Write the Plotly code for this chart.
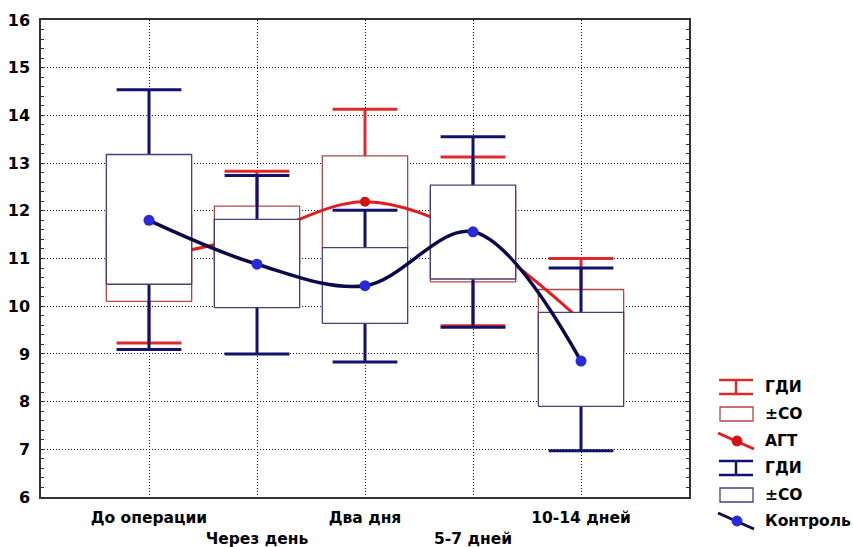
import plotly.graph_objects as go

# ---------------- data ----------------
categories = ["До операции", "Через день", "Два дня", "5-7 дней", "10-14 дней"]
tick_labels = ["До операции", "<br>Через день", "Два дня", "<br>5-7 дней", "10-14 дней"]
y_ticks = [6, 7, 8, 9, 10, 11, 12, 13, 14, 15, 16]

# АГТ group
agt_mean = [11.0, 11.5, 12.19, 11.45, 9.7]
agt_sd_low = [10.10, 10.9, 11.23, 10.51, 9.05]
agt_sd_high = [11.9, 12.10, 13.15, 12.40, 10.35]
agt_ci_low = [9.23, 10.2, 10.25, 9.59, 8.4]
agt_ci_high = [12.75, 12.83, 14.13, 13.13, 11.0]

# Контроль group
ctrl_mean = [11.80, 10.88, 10.43, 11.56, 8.85]
ctrl_sd_low = [10.46, 9.97, 9.64, 10.57, 7.90]
ctrl_sd_high = [13.18, 11.82, 11.23, 12.54, 9.87]
ctrl_ci_low = [9.09, 9.0, 8.83, 9.56, 6.97]
ctrl_ci_high = [14.54, 12.74, 12.01, 13.55, 10.8]

legend_labels = ["ГДИ", "±СО", "АГТ", "ГДИ", "±СО", "Контроль"]

# ---------------- styles ----------------
FONT = "DejaVu Sans"
RED_W, RED_BOX, RED_LINE, RED_MK = "#e02a2a", "#b04848", "#e01e1e", "#d41414"
NAV_W, NAV_BOX, NAV_LINE, NAV_MK = "#12126c", "#4c3c7c", "#0a0a48", "#2a2ad8"
BOX_HALF = 0.395
CAP_HALF = 0.30

L, R, T, B = 41, 164, 20, 50
W, H = 853, 547
PW, PH = W - L - R, H - T - B

fig = go.Figure()
xs = list(range(len(categories)))


def add_group(mean, sd_lo, sd_hi, ci_lo, ci_hi, wcol, bcol, lcol, mcol, lw, mk):
    # whiskers
    wx, wy = [], []
    for i in xs:
        wx += [i, i, None, i - CAP_HALF, i + CAP_HALF, None, i - CAP_HALF, i + CAP_HALF, None]
        wy += [ci_lo[i], ci_hi[i], None, ci_lo[i], ci_lo[i], None, ci_hi[i], ci_hi[i], None]
    fig.add_trace(go.Scatter(x=wx, y=wy, mode="lines", line=dict(color=wcol, width=3),
                             hoverinfo="skip", showlegend=False))
    # boxes
    for i in xs:
        fig.add_trace(go.Scatter(
            x=[i - BOX_HALF, i + BOX_HALF, i + BOX_HALF, i - BOX_HALF, i - BOX_HALF],
            y=[sd_lo[i], sd_lo[i], sd_hi[i], sd_hi[i], sd_lo[i]],
            mode="lines", fill="toself", fillcolor="white",
            line=dict(color=bcol, width=1.3), hoverinfo="skip", showlegend=False))
    # mean line
    fig.add_trace(go.Scatter(x=xs, y=mean, mode="lines+markers",
                             line=dict(color=lcol, width=lw, shape="spline", smoothing=1.0),
                             marker=dict(color=mcol, size=mk),
                             hoverinfo="skip", showlegend=False))


add_group(agt_mean, agt_sd_low, agt_sd_high, agt_ci_low, agt_ci_high,
          RED_W, RED_BOX, RED_LINE, RED_MK, 3, 10)
add_group(ctrl_mean, ctrl_sd_low, ctrl_sd_high, ctrl_ci_low, ctrl_ci_high,
          NAV_W, NAV_BOX, NAV_LINE, NAV_MK, 3.5, 11)


# ---------------- custom legend ----------------
def px(x):
    return (x - L) / PW


def py(y):
    return (H - B - y) / PH


shapes = []
annotations = []
row_y = [387, 414, 441, 468, 495, 521]
kinds = ["ci", "box", "line", "ci", "box", "line"]
cols = [(RED_W, RED_BOX, RED_LINE, RED_MK)] * 3 + [(NAV_W, NAV_BOX, NAV_LINE, NAV_MK)] * 3
for c, kind, (wc, bc, lc, mc), lab in zip(row_y, kinds, cols, legend_labels):
    if kind == "ci":
        for yy in (c - 7, c + 7):
            shapes.append(dict(type="line", xref="paper", yref="paper", x0=px(719), x1=px(753),
                               y0=py(yy), y1=py(yy), line=dict(color=wc, width=2.5)))
        shapes.append(dict(type="line", xref="paper", yref="paper", x0=px(736), x1=px(736),
                           y0=py(c - 7), y1=py(c + 7), line=dict(color=wc, width=2.5)))
    elif kind == "box":
        shapes.append(dict(type="rect", xref="paper", yref="paper", x0=px(720), x1=px(753),
                           y0=py(c + 7), y1=py(c - 7), line=dict(color=bc, width=1.3)))
    else:
        shapes.append(dict(type="line", xref="paper", yref="paper", x0=px(718), x1=px(754),
                           y0=py(c - 8), y1=py(c + 8), line=dict(color=lc, width=3)))
        shapes.append(dict(type="circle", xref="paper", yref="paper", x0=px(732), x1=px(742),
                           y0=py(c + 5), y1=py(c - 5), fillcolor=mc, line=dict(color=mc, width=1)))
    annotations.append(dict(xref="paper", yref="paper", x=px(763), y=py(c), text=lab,
                            showarrow=False, xanchor="left", yanchor="middle",
                            font=dict(family=FONT, size=15.5, color="black", weight="bold")))

fig.update_layout(
    width=W, height=H,
    margin=dict(l=L, r=R, t=T, b=B, pad=0, autoexpand=False),
    paper_bgcolor="white", plot_bgcolor="white",
    shapes=shapes, annotations=annotations,
    showlegend=False,
    font=dict(family=FONT, size=15, color="black", weight="bold"),
)
fig.update_xaxes(
    range=[-1, 5], tickmode="array", tickvals=xs, ticktext=tick_labels,
    tickangle=0, automargin=False,
    showgrid=True, gridcolor="#111", gridwidth=1, griddash="1px,2px",
    showline=True, linecolor="#333", linewidth=1.5, mirror=True,
    ticks="", zeroline=False, ticklabelstandoff=6,
    tickfont=dict(family=FONT, size=15.5, color="black", weight="bold"),
)
fig.update_yaxes(
    range=[6, 16], tickmode="array", tickvals=y_ticks, automargin=False,
    showgrid=True, gridcolor="#111", gridwidth=1, griddash="1px,2px",
    showline=True, linecolor="#333", linewidth=1.5, mirror="ticks",
    ticks="inside", ticklen=4, tickcolor="#333", zeroline=False,
    minor=dict(dtick=0.2, ticks="inside", ticklen=3, tickcolor="#333", showgrid=False),
    ticklabelstandoff=6,
    tickfont=dict(family=FONT, size=16, color="black", weight="bold"),
)

fig.write_html("out.html")
